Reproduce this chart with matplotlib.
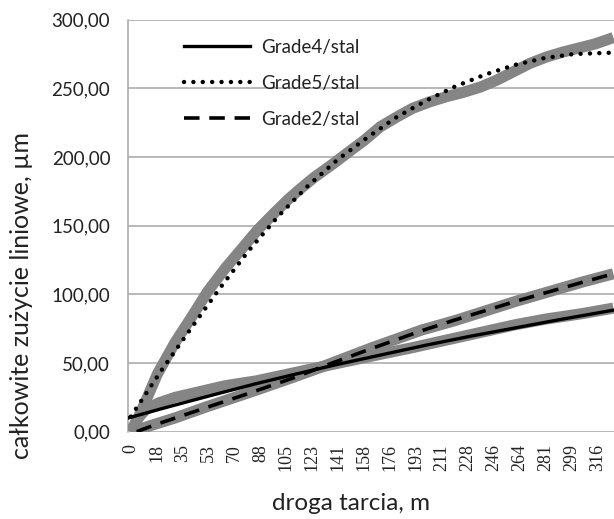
import matplotlib
matplotlib.use("Agg")
import matplotlib.pyplot as plt
from matplotlib.ticker import FuncFormatter

# measured wear, read along the sliding distance [m]
grade5_dist = [0, 5, 10, 18, 30, 41.5, 52, 64, 75, 86, 97, 106.5, 115, 124, 137, 148,
               158, 169, 180, 191, 202, 214, 225, 237, 248, 259, 270, 282, 293, 304, 315, 327]
grade5_wear = [0, 10, 22, 42, 65, 84, 102, 119, 133, 147, 159, 169, 177, 185, 195, 204,
               212, 222, 229, 235.5, 240, 244, 247, 251, 256, 262, 268, 273, 276.5, 279.5, 282.5, 287]

grade4_dist = [0, 5, 10, 19, 30, 42, 64, 85, 111, 141, 163, 190, 215, 240, 261, 281, 306, 327]
grade4_wear = [0, 10, 16, 21, 25, 28, 33.5, 37, 43, 50, 55, 61, 67, 73, 78, 82, 86, 90]

grade2_dist = [0, 5, 15, 30, 51, 76, 87, 111, 129, 163, 197, 220, 261, 306, 327]
grade2_wear = [0, 1.5, 5, 10, 18, 27, 31, 40, 47, 61, 74, 81, 95, 109, 115]

# trend lines
trend5_dist = [0, 20, 40, 60, 80, 100, 120, 140, 160, 180, 200, 220, 240, 260, 280, 300, 327]
trend5_wear = [11, 43.5, 74, 104, 132, 157, 179, 198, 214, 229, 241, 251.5, 260, 267, 272, 275, 276]

trend4_dist = [-1.7, 0, 20, 40, 60, 85, 110, 140, 170, 200, 230, 260, 290, 327]
trend4_wear = [10, 10.5, 16.5, 22.3, 28, 35, 41.5, 49, 56, 63, 69.5, 75.5, 81.5, 88.5]

trend2_dist = [4, 15, 51, 76, 111, 129, 163, 197, 220, 261, 306, 327]
trend2_wear = [0, 4.5, 17.5, 26.5, 39.5, 47, 60.5, 73.5, 81.5, 95, 108.8, 115]

tick_labels = ["0", "18", "35", "53", "70", "88", "105", "123", "141", "158",
               "176", "193", "211", "228", "246", "264", "281", "299", "316"]
tick_step = 17.57

fig = plt.figure(figsize=(6.14, 5.19), dpi=100)
ax = fig.add_axes([128.3 / 614, 87.3 / 519, 1 - 128.3 / 614, (432 - 20) / 519])

gray = "#858585"
for d, w in [(grade5_dist, grade5_wear), (grade4_dist, grade4_wear), (grade2_dist, grade2_wear)]:
    ax.plot(d, w, color=gray, lw=8, solid_capstyle="butt", solid_joinstyle="round", zorder=3)

ax.plot(trend4_dist, trend4_wear, color="black", lw=2.4, label="Grade4/stal", zorder=5)
ax.plot(trend5_dist, trend5_wear, color="black", lw=3.2, linestyle=(0, (0.01, 2.1)),
        dash_capstyle="round", label="Grade5/stal", zorder=5)
ax.plot(trend2_dist, trend2_wear, color="black", lw=2.6, linestyle=(0, (4.3, 2.7)),
        dash_capstyle="butt", label="Grade2/stal", zorder=5)

ax.set_xlim(-1.7, 327.4)
ax.set_ylim(0, 300)
ax.set_yticks(range(0, 301, 50))
ax.yaxis.set_major_formatter(FuncFormatter(lambda v, p: f"{v:.2f}".replace(".", ",")))
ax.set_xticks([i * tick_step for i in range(len(tick_labels))])
ax.set_xticklabels(tick_labels, rotation=90, family="Liberation Serif", fontsize=13)

ax.grid(axis="y", color="#a6a6a6", lw=1.1)
ax.set_axisbelow(True)
for s in ["top", "right", "bottom"]:
    ax.spines[s].set_visible(False)
ax.spines["left"].set_color("#a6a6a6")
ax.spines["left"].set_linewidth(1.1)
ax.tick_params(axis="both", length=0, colors="#222222")
ax.tick_params(axis="y", pad=13, labelsize=13.5)
ax.tick_params(axis="x", pad=9)
for t in ax.get_yticklabels():
    t.set_family("Lato")

ax.set_ylabel("całkowite zużycie liniowe, µm", family="Lato", fontsize=18, color="#222222")
ax.yaxis.set_label_coords(-0.196, 0.33)
ax.set_xlabel("droga tarcia, m", family="Lato", fontsize=17.5, color="#222222")
ax.xaxis.set_label_coords(0.459, -0.148)

leg = ax.legend(loc="upper left", bbox_to_anchor=(184 / 614, 1 - 39 / 519),
                bbox_transform=fig.transFigure, frameon=False, borderpad=0,
                borderaxespad=0, handlelength=3.5, handletextpad=0.6, labelspacing=1.0,
                prop={"family": "Lato", "size": 13.5})
for t in leg.get_texts():
    t.set_color("#222222")

fig.savefig("out.png", dpi=100)
